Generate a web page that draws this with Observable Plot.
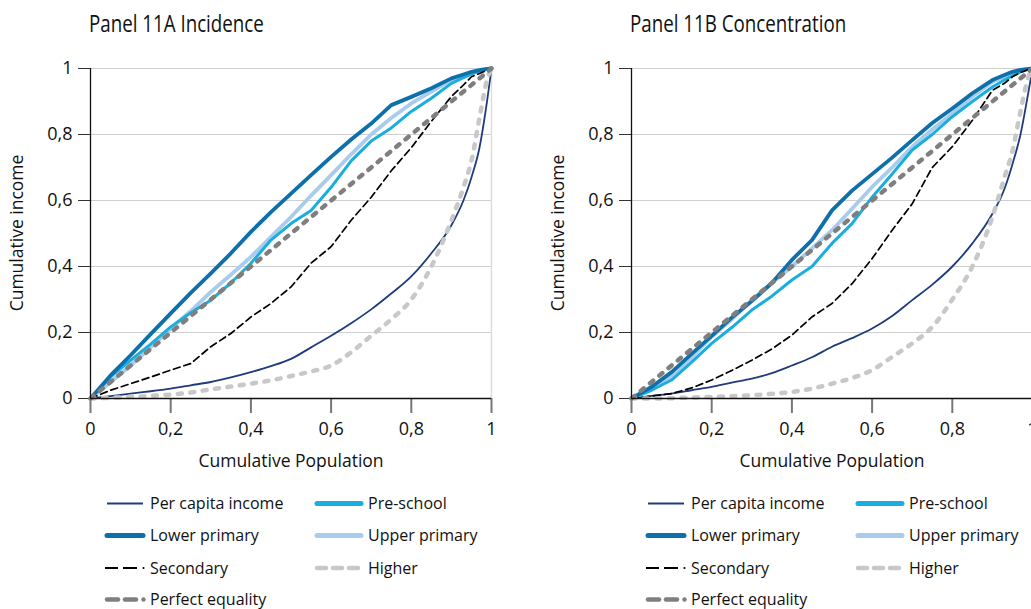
<!DOCTYPE html>
<html><head><meta charset="utf-8">
<script src="https://cdn.jsdelivr.net/npm/d3@7"></script>
<script src="https://cdn.jsdelivr.net/npm/@observablehq/plot@0.6"></script>
<style>
body{margin:0;background:#fff;}
#wrap{position:relative;width:1031px;height:609px;overflow:hidden;font-family:"Open Sans",sans-serif;}
.panel{position:absolute;top:0;width:541px;height:609px;}
.titlesvg{position:absolute;left:0;top:0;}
.chart{position:absolute;left:0;top:0;}
.legend{position:absolute;left:0;top:480px;}
</style></head><body><div id="wrap"></div>
<script>
// Shared cumulative population grid
const popShare = [0, .05, .1, .15, .2, .25, .3, .35, .4, .45, .5, .55, .6, .65, .7, .75, .8, .85, .9, .93, .95, .97, .99, 1];
const xTicks = [0, 0.2, 0.4, 0.6, 0.8, 1];
const yTicks = [0, 0.2, 0.4, 0.6, 0.8, 1];
const equalityX = [0, 1];
const equalityY = [0, 1];

// Panel 11A Incidence
const incPerCapita  = [0, .007, .015, .022, .03, .04, .05, .064, .08, .098, .12, .155, .19, .228, .27, .318, .37, .44, .525, .6, .67, .76, .91, 1];
const incPreschool  = [0, .066, .116, .165, .217, .26, .298, .35, .41, .48, .53, .57, .64, .72, .78, .82, .87, .91, .955, .972, .983, .992, .998, 1];
const incLowerPrim  = [0, .07, .131, .195, .258, .32, .379, .44, .505, .565, .621, .677, .732, .785, .833, .889, .914, .94, .97, .982, .99, .995, .999, 1];
const incUpperPrim  = [0, .05, .10, .155, .212, .265, .323, .375, .429, .49, .55, .615, .677, .74, .80, .85, .894, .93, .965, .978, .987, .994, .999, 1];
const incSecondary  = [0, .025, .045, .065, .086, .106, .157, .197, .247, .288, .338, .41, .46, .54, .61, .69, .76, .84, .915, .95, .975, .985, .995, 1];
const incHigher     = [0, .002, .005, .008, .012, .018, .028, .036, .045, .055, .068, .082, .10, .14, .19, .24, .30, .40, .54, .64, .72, .85, .97, 1];

// Panel 11B Concentration
const conPerCapita  = [0, .008, .015, .025, .035, .048, .06, .077, .10, .125, .157, .183, .212, .25, .298, .345, .40, .47, .56, .635, .71, .80, .93, 1];
const conPreschool  = [0, .025, .056, .11, .167, .215, .268, .31, .359, .40, .47, .53, .61, .68, .753, .80, .854, .90, .944, .965, .978, .99, .998, 1];
const conLowerPrim  = [0, .035, .08, .135, .19, .245, .295, .35, .42, .48, .57, .63, .68, .73, .783, .835, .879, .925, .965, .98, .99, .996, .999, 1];
const conUpperPrim  = [0, .03, .066, .125, .187, .24, .298, .35, .40, .455, .51, .575, .641, .70, .763, .815, .864, .915, .96, .975, .985, .993, .998, 1];
const conSecondary  = [0, .007, .015, .032, .056, .085, .116, .15, .192, .247, .288, .348, .424, .51, .59, .70, .763, .843, .934, .955, .975, .988, .997, 1];
const conHigher     = [0, 0, .001, .003, .005, .007, .01, .014, .02, .03, .045, .062, .086, .126, .167, .217, .30, .40, .55, .67, .75, .87, .975, 1];

const seriesNames = ["Per capita income", "Pre-school", "Lower primary", "Upper primary", "Secondary", "Higher", "Perfect equality"];

const styles = {
  "Per capita income": {stroke: "#1f3a7d", strokeWidth: 1.8, curve: "monotone-x"},
  "Pre-school":        {stroke: "#19aede", strokeWidth: 3},
  "Lower primary":     {stroke: "#0d70ab", strokeWidth: 3.8},
  "Upper primary":     {stroke: "#a9cbec", strokeWidth: 3.8},
  "Secondary":         {stroke: "#000", strokeWidth: 1.7, strokeDasharray: "7,4"},
  "Higher":            {stroke: "#c8c8c8", strokeWidth: 4.5, strokeDasharray: "4,8.5", strokeLinecap: "round", curve: "monotone-x"},
  "Perfect equality":  {stroke: "#7f7f7f", strokeWidth: 4.5, strokeDasharray: "4,8", strokeLinecap: "round"}
};
const drawOrder = ["Per capita income", "Upper primary", "Pre-school", "Lower primary", "Secondary", "Higher", "Perfect equality"];

const fmt = d => String(d).replace(".", ",");

function buildPanel(title, valuesByName, left) {
  const panel = document.createElement("div");
  panel.className = "panel";
  panel.style.left = left + "px";

  const tsvg = d3.create("svg").attr("class", "titlesvg").attr("width", 541).attr("height", 45);
  tsvg.append("text").attr("class", "ptitle").attr("x", 0).attr("y", 0)
    .attr("transform", "translate(89,31.7)")
    .style("font-family", "Open Sans, sans-serif").style("font-size", "24px").attr("fill", "#111")
    .text(title);
  panel.appendChild(tsvg.node());

  const rows = [];
  for (const name of seriesNames) {
    if (name === "Perfect equality") {
      equalityX.forEach((x, i) => rows.push({x, y: equalityY[i], series: name}));
    } else {
      popShare.forEach((x, i) => rows.push({x, y: valuesByName[name][i], series: name}));
    }
  }

  const lineMarks = drawOrder.map(name => Plot.line(rows.filter(r => r.series === name), {
    x: "x", y: "y", strokeLinejoin: "round", ...styles[name]
  }));

  const chart = Plot.plot({
    width: 541, height: 480,
    marginLeft: 90, marginRight: 50, marginTop: 68, marginBottom: 82,
    style: {fontFamily: "Open Sans, sans-serif", fontSize: "18px", color: "#111", background: "transparent"},
    x: {domain: [0, 1], ticks: xTicks, tickFormat: fmt, label: null},
    y: {domain: [0, 1], ticks: yTicks, tickFormat: fmt, label: null},
    marks: [
      Plot.gridY(yTicks.filter(d => d > 0), {stroke: "#cfcfcf", strokeOpacity: 1, strokeWidth: 1}),
      Plot.ruleX([1], {stroke: "#dddddd", strokeWidth: 1.5}),
      Plot.axisX({ticks: xTicks, tickFormat: fmt, tickSize: 15, tickPadding: 8.5, stroke: "#777", strokeWidth: 2, fill: "#111", label: null, fontSize: 18}),
      Plot.axisY({ticks: yTicks, tickFormat: fmt, tickSize: 12, tickPadding: 6, stroke: "#333", fill: "#111", label: null, fontSize: 18}),
      ...lineMarks,
      Plot.ruleY([0], {stroke: "#111", strokeWidth: 1.3}),
      Plot.ruleX([0], {stroke: "#111", strokeWidth: 1.3}),
      Plot.text(["Cumulative Population"], {frameAnchor: "bottom", dy: 68, fontSize: 17.5, fill: "#111"})
    ]
  });
  chart.classList.add("chart");
  d3.select(chart).append("text")
    .attr("transform", "translate(17,233) rotate(-90)")
    .attr("text-anchor", "middle").attr("dy", "0.35em")
    .style("font-size", "17.5px").attr("fill", "#111")
    .text("Cumulative income");
  panel.appendChild(chart);

  // legend
  const svg = d3.create("svg").attr("class", "legend").attr("width", 541).attr("height", 129)
    .style("font-family", "Open Sans, sans-serif").style("font-size", "16px");
  const rowY = [23.5, 55.5, 88, 119.5];
  const items = [
    {name: "Per capita income", col: 0, row: 0},
    {name: "Pre-school", col: 1, row: 0},
    {name: "Lower primary", col: 0, row: 1},
    {name: "Upper primary", col: 1, row: 1},
    {name: "Secondary", col: 0, row: 2},
    {name: "Higher", col: 1, row: 2},
    {name: "Perfect equality", col: 0, row: 3}
  ];
  const colSym = [[105, 145], [315, 363]];
  const colText = [150, 368];
  for (const it of items) {
    const y = rowY[it.row];
    const [a, b] = colSym[it.col];
    const g = svg.append("g");
    const st = styles[it.name];
    if (it.name === "Secondary") {
      g.append("line").attr("x1", 105).attr("x2", 118).attr("y1", y).attr("y2", y).attr("stroke", "#000").attr("stroke-width", 2);
      g.append("line").attr("x1", 123).attr("x2", 137).attr("y1", y).attr("y2", y).attr("stroke", "#000").attr("stroke-width", 2);
      g.append("circle").attr("cx", 143.5).attr("cy", y).attr("r", 1.1).attr("fill", "#000");
    } else if (it.name === "Perfect equality") {
      g.append("line").attr("x1", 107).attr("x2", 118).attr("y1", y).attr("y2", y).attr("stroke", st.stroke).attr("stroke-width", 4.5).attr("stroke-linecap", "round");
      g.append("line").attr("x1", 125).attr("x2", 136).attr("y1", y).attr("y2", y).attr("stroke", st.stroke).attr("stroke-width", 4.5).attr("stroke-linecap", "round");
      g.append("circle").attr("cx", 143.5).attr("cy", y).attr("r", 2.2).attr("fill", st.stroke);
    } else if (it.name === "Higher") {
      [[317, 326], [333, 342], [349, 358]].forEach(([p, q]) =>
        g.append("line").attr("x1", p).attr("x2", q).attr("y1", y).attr("y2", y).attr("stroke", st.stroke).attr("stroke-width", 4.5).attr("stroke-linecap", "round"));
    } else {
      const w = it.name === "Per capita income" ? 2 : 5;
      g.append("line").attr("x1", a + 2).attr("x2", b - 2).attr("y1", y).attr("y2", y)
        .attr("stroke", st.stroke).attr("stroke-width", w).attr("stroke-linecap", it.name === "Per capita income" ? "butt" : "round");
    }
    svg.append("text").attr("x", colText[it.col]).attr("y", y).attr("dy", "0.35em").attr("fill", "#111").text(it.name);
  }
  panel.appendChild(svg.node());
  return panel;
}

const wrap = document.getElementById("wrap");
wrap.appendChild(buildPanel("Panel 11A Incidence", {
  "Per capita income": incPerCapita, "Pre-school": incPreschool, "Lower primary": incLowerPrim,
  "Upper primary": incUpperPrim, "Secondary": incSecondary, "Higher": incHigher
}, 0));
wrap.appendChild(buildPanel("Panel 11B Concentration", {
  "Per capita income": conPerCapita, "Pre-school": conPreschool, "Lower primary": conLowerPrim,
  "Upper primary": conUpperPrim, "Secondary": conSecondary, "Higher": conHigher
}, 541));

// condense the panel titles to the reference's narrow typeface width
const titles = document.querySelectorAll(".ptitle");
const sx = 175 / titles[0].getComputedTextLength();
titles.forEach(t => t.setAttribute("transform", `translate(89,31.7) scale(${sx},1)`));
</script></body></html>
